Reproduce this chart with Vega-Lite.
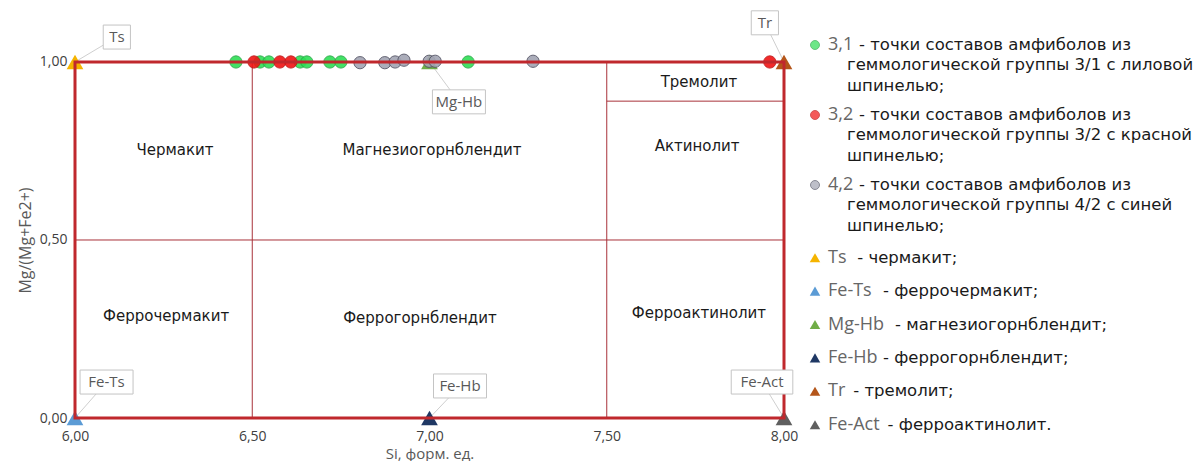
{
  "$schema": "https://vega.github.io/schema/vega-lite/v6.json",
  "background": "white",
  "padding": {"left": 17, "top": 10, "right": 0, "bottom": 0},
  "config": {
    "view": {"stroke": null},
    "axis": {"grid": false, "domain": false, "ticks": false}
  },
  "datasets": {
    "lines": [
      {"x": 6.5, "y": 0, "x2": 6.5, "y2": 1},
      {"x": 7.5, "y": 0, "x2": 7.5, "y2": 1},
      {"x": 6, "y": 0.5, "x2": 8, "y2": 0.5},
      {"x": 7.5, "y": 0.89, "x2": 8, "y2": 0.89}
    ],
    "border": [{"x": 6, "y": 0, "x2": 8, "y2": 1}],
    "regions": [
      {"name": "Чермакит", "x": 6.282, "y": 0.753},
      {"name": "Магнезиогорнблендит", "x": 7.007, "y": 0.753},
      {"name": "Актинолит", "x": 7.755, "y": 0.764},
      {"name": "Тремолит", "x": 7.76, "y": 0.944},
      {"name": "Феррочермакит", "x": 6.257, "y": 0.287},
      {"name": "Феррогорнблендит", "x": 6.973, "y": 0.281},
      {"name": "Ферроактинолит", "x": 7.76, "y": 0.295}
    ],
    "points": [
      {"grp": "3,1", "x": 6.454, "y": 1.0},
      {"grp": "3,1", "x": 6.522, "y": 1.0},
      {"grp": "3,1", "x": 6.547, "y": 1.0},
      {"grp": "3,1", "x": 6.635, "y": 1.0},
      {"grp": "3,1", "x": 6.654, "y": 1.0},
      {"grp": "3,1", "x": 6.719, "y": 1.0},
      {"grp": "3,1", "x": 6.75, "y": 1.0},
      {"grp": "3,1", "x": 7.109, "y": 1.0},
      {"grp": "4,2", "x": 6.804, "y": 0.998},
      {"grp": "4,2", "x": 6.874, "y": 0.998},
      {"grp": "4,2", "x": 6.903, "y": 1.0},
      {"grp": "4,2", "x": 6.928, "y": 1.005},
      {"grp": "4,2", "x": 6.999, "y": 1.002},
      {"grp": "4,2", "x": 7.016, "y": 1.002},
      {"grp": "4,2", "x": 7.292, "y": 1.002},
      {"grp": "3,2", "x": 6.505, "y": 1.0},
      {"grp": "3,2", "x": 6.578, "y": 1.0},
      {"grp": "3,2", "x": 6.609, "y": 1.0},
      {"grp": "3,2", "x": 7.96, "y": 1.0}
    ],
    "members": [
      {"name": "Ts", "x": 6, "y": 1, "lx": 6.118, "ly": 1.07},
      {"name": "Fe-Ts", "x": 6, "y": 0, "lx": 6.089, "ly": 0.101},
      {"name": "Mg-Hb", "x": 7, "y": 1, "lx": 7.083, "ly": 0.888},
      {"name": "Fe-Hb", "x": 7, "y": 0, "lx": 7.086, "ly": 0.09},
      {"name": "Tr", "x": 8, "y": 1, "lx": 7.946, "ly": 1.11},
      {"name": "Fe-Act", "x": 8, "y": 0, "lx": 7.938, "ly": 0.101}
    ],
    "legend1": [
      {"key": "3,1", "d1": "- точки составов амфиболов из", "d2": "геммологической группы 3/1 с лиловой\nшпинелью;"},
      {"key": "3,2", "d1": "- точки составов амфиболов из", "d2": "геммологической группы 3/2 с красной\nшпинелью;"},
      {"key": "4,2", "d1": "- точки составов амфиболов из", "d2": "геммологической группы 4/2 с синей\nшпинелью;"}
    ],
    "legend2": [
      {"key": "Ts", "desc": "- чермакит;"},
      {"key": "Fe-Ts", "desc": "- феррочермакит;"},
      {"key": "Mg-Hb", "desc": "- магнезиогорнблендит;"},
      {"key": "Fe-Hb", "desc": "- феррогорнблендит;"},
      {"key": "Tr", "desc": "- тремолит;"},
      {"key": "Fe-Act", "desc": "- ферроактинолит."}
    ]
  },
  "spacing": 21,
  "bounds": "flush",
  "hconcat": [
    {
      "width": 709,
      "height": 408,
      "layer": [
        {
          "data": {"name": "lines"},
          "mark": {"type": "rule", "color": "#a8323a", "strokeWidth": 1},
          "encoding": {
            "x": {
              "field": "x", "type": "quantitative",
              "scale": {"domain": [6, 8], "nice": false, "zero": false},
              "axis": {
                "values": [6, 6.5, 7, 7.5, 8],
                "labelExpr": "replace(format(datum.value, '.2f'), '.', ',')",
                "title": "Si, форм. ед.",
                "labelFont": "Open Sans", "labelFontSize": 14, "labelColor": "#404040",
                "labelPadding": 11, "labelFlush": false,
                "titleFont": "Open Sans", "titleFontSize": 15, "titleColor": "#595959",
                "titleFontWeight": "normal", "titlePadding": 3
              }
            },
            "y": {
              "field": "y", "type": "quantitative",
              "scale": {"domain": [0, 1.146], "nice": false, "zero": false},
              "axis": {
                "values": [0, 0.5, 1],
                "labelExpr": "replace(format(datum.value, '.2f'), '.', ',')",
                "title": "Mg/(Mg+Fe2+)",
                "labelFont": "Open Sans", "labelFontSize": 14, "labelColor": "#404040",
                "labelPadding": 8,
                "titleFont": "Open Sans", "titleFontSize": 16, "titleColor": "#595959",
                "titleFontWeight": "normal", "titlePadding": 6, "titleY": 230
              }
            },
            "x2": {"field": "x2"},
            "y2": {"field": "y2"}
          }
        },
        {
          "data": {"name": "regions"},
          "mark": {"type": "text", "font": "DejaVu Sans", "fontSize": 15, "color": "#1a1a1a", "align": "center", "baseline": "middle"},
          "encoding": {
            "x": {"field": "x", "type": "quantitative"},
            "y": {"field": "y", "type": "quantitative"},
            "text": {"field": "name"}
          }
        },
        {
          "data": {"name": "members"},
          "mark": {"type": "rule", "color": "#cfcfcf", "strokeWidth": 1},
          "encoding": {
            "x": {"field": "x", "type": "quantitative"},
            "y": {"field": "y", "type": "quantitative"},
            "x2": {"field": "lx"},
            "y2": {"field": "ly"}
          }
        },
        {
          "data": {"name": "members"},
          "mark": {"type": "point", "shape": "triangle-up", "filled": true, "size": 280, "opacity": 1},
          "encoding": {
            "x": {"field": "x", "type": "quantitative"},
            "y": {"field": "y", "type": "quantitative"},
            "color": {
              "field": "name", "type": "nominal",
              "scale": {"domain": ["Ts", "Fe-Ts", "Mg-Hb", "Fe-Hb", "Tr", "Fe-Act"], "range": ["#f5b400", "#5b9bd5", "#70ad47", "#1f3864", "#b4561a", "#5f5f5f"]},
              "legend": null
            }
          }
        },
        {
          "data": {"name": "points"},
          "mark": {"type": "circle", "size": 150, "opacity": 0.9, "strokeWidth": 1},
          "encoding": {
            "x": {"field": "x", "type": "quantitative"},
            "y": {"field": "y", "type": "quantitative"},
            "fill": {
              "field": "grp", "type": "nominal",
              "scale": {"domain": ["3,1", "3,2", "4,2"], "range": ["#2ede55", "#f01414", "#a3a5b3"]},
              "legend": null
            },
            "stroke": {
              "field": "grp", "type": "nominal",
              "scale": {"domain": ["3,1", "3,2", "4,2"], "range": ["#25a844", "#c01010", "#555566"]},
              "legend": null
            }
          }
        },
        {
          "data": {"name": "border"},
          "mark": {"type": "rect", "filled": false, "color": "#c0282d", "strokeWidth": 3},
          "encoding": {
            "x": {"field": "x", "type": "quantitative"},
            "y": {"field": "y", "type": "quantitative"},
            "x2": {"field": "x2"},
            "y2": {"field": "y2"}
          }
        },
        {
          "data": {"name": "members"},
          "mark": {
            "type": "rect", "fill": "white", "stroke": "#c4c4c4", "strokeWidth": 1,
            "xOffset": {"expr": "-(4.3*length(datum.name)+5)"},
            "x2Offset": {"expr": "4.3*length(datum.name)+5"},
            "yOffset": -12, "y2Offset": 12
          },
          "encoding": {
            "x": {"field": "lx", "type": "quantitative"},
            "y": {"field": "ly", "type": "quantitative"},
            "x2": {"field": "lx"},
            "y2": {"field": "ly"}
          }
        },
        {
          "data": {"name": "members"},
          "mark": {"type": "text", "font": "Open Sans", "fontSize": 15, "color": "#595959", "align": "center", "baseline": "middle"},
          "encoding": {
            "x": {"field": "lx", "type": "quantitative"},
            "y": {"field": "ly", "type": "quantitative"},
            "text": {"field": "name"}
          }
        }
      ]
    },
    {
      "spacing": 21,
      "bounds": "flush",
      "vconcat": [
        {
          "width": 20,
          "height": {"step": 70},
          "data": {"name": "legend1"},
          "encoding": {"y": {"field": "key", "type": "nominal", "sort": null, "axis": null}},
          "layer": [
            {
              "mark": {"type": "circle", "size": 80, "strokeWidth": 1},
              "encoding": {
                "fill": {
                  "field": "key", "type": "nominal",
                  "scale": {"domain": ["3,1", "3,2", "4,2"], "range": ["#2ede55", "#f01414", "#a3a5b3"]},
                  "legend": null
                },
                "stroke": {
                  "field": "key", "type": "nominal",
                  "scale": {"domain": ["3,1", "3,2", "4,2"], "range": ["#25a844", "#c01010", "#555566"]},
                  "legend": null
                }
              }
            },
            {
              "mark": {"type": "text", "align": "left", "baseline": "middle", "dx": 13, "font": "Open Sans", "fontSize": 18, "color": "#666666"},
              "encoding": {"text": {"field": "key"}}
            },
            {
              "mark": {"type": "text", "align": "left", "baseline": "middle", "dx": 44, "font": "DejaVu Sans", "fontSize": 16.5, "color": "#1a1a1a"},
              "encoding": {"text": {"field": "d1"}}
            },
            {
              "mark": {"type": "text", "align": "left", "baseline": "top", "dx": 32, "dy": 12, "font": "DejaVu Sans", "fontSize": 16.5, "lineHeight": 21, "lineBreak": "\n", "color": "#1a1a1a"},
              "encoding": {"text": {"field": "d2"}}
            }
          ]
        },
        {
          "width": 20,
          "height": {"step": 33.4},
          "data": {"name": "legend2"},
          "encoding": {"y": {"field": "key", "type": "nominal", "sort": null, "axis": null}},
          "layer": [
            {
              "mark": {"type": "point", "shape": "triangle-up", "filled": true, "size": 110, "opacity": 1},
              "encoding": {
                "color": {
                  "field": "key", "type": "nominal",
                  "scale": {"domain": ["Ts", "Fe-Ts", "Mg-Hb", "Fe-Hb", "Tr", "Fe-Act"], "range": ["#f5b400", "#5b9bd5", "#70ad47", "#1f3864", "#b4561a", "#5f5f5f"]},
                  "legend": null
                }
              }
            },
            {
              "mark": {"type": "text", "align": "left", "baseline": "middle", "dx": 13, "font": "Open Sans", "fontSize": 18, "color": "#666666"},
              "encoding": {"text": {"field": "key"}}
            },
            {
              "mark": {"type": "text", "align": "left", "baseline": "middle", "dx": {"expr": "25 + 8.6*length(datum.key) + (indexof(datum.key, 'M') >= 0 ? 12 : 0) - (indexof(datum.key, 'A') >= 0 ? 4 : 0) - (datum.key == 'Tr' ? 4 : 0)"}, "font": "DejaVu Sans", "fontSize": 16.5, "color": "#1a1a1a"},
              "encoding": {"text": {"field": "desc"}}
            }
          ]
        }
      ]
    }
  ]
}
